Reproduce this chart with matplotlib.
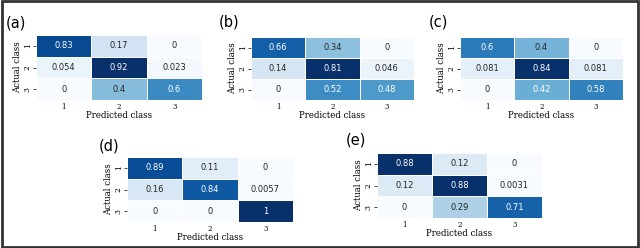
import matplotlib
matplotlib.use('Agg')
import matplotlib.pyplot as plt
import numpy as np
import seaborn as sns
from matplotlib.patches import Rectangle

# confusion matrices
cm_a = [[0.83, 0.17, 0], [0.054, 0.92, 0.023], [0, 0.4, 0.6]]
cm_b = [[0.66, 0.34, 0], [0.14, 0.81, 0.046], [0, 0.52, 0.48]]
cm_c = [[0.6, 0.4, 0], [0.081, 0.84, 0.081], [0, 0.42, 0.58]]
cm_d = [[0.89, 0.11, 0], [0.16, 0.84, 0.0057], [0, 0, 1]]
cm_e = [[0.88, 0.12, 0], [0.12, 0.88, 0.0031], [0, 0.29, 0.71]]
classes = ['1', '2', '3']
panel_names = ['(a)', '(b)', '(c)', '(d)', '(e)']

W, H = 640, 248
fig = plt.figure(figsize=(W / 100, H / 100), dpi=100)

# heatmap boxes in pixels: left, top, right, bottom
boxes = [(36, 35, 202, 100), (251, 37, 414, 100), (460, 37, 623, 100),
         (127, 157, 293, 222), (377, 153, 542, 218)]
# panel label positions (pixels, left / vertical centre)
label_pos = [(6, 23), (219, 22), (429, 22), (99, 146), (346, 140)]

for cm, box, name, lp in zip([cm_a, cm_b, cm_c, cm_d, cm_e], boxes, panel_names, label_pos):
    l, t, r, b = box
    data = np.array(cm)
    ax = fig.add_axes([l / W, 1 - b / H, (r - l) / W, (b - t) / H])
    sns.heatmap(data, ax=ax, cmap='Blues', annot=True, fmt='g', cbar=False,
                linewidths=0.6, linecolor='white', annot_kws={'size': 6})
    # light cells get dark text, as in the original
    for txt, v in zip(ax.texts, data.flatten()):
        txt.set_color('white' if v / data.max() > 0.49 else '#262626')
    ax.set_xticklabels(classes, fontsize=5, family='DejaVu Serif')
    ax.set_yticklabels(classes, fontsize=5.5, family='DejaVu Serif', rotation=90, va='center')
    ax.tick_params(axis='x', length=0, pad=2)
    ax.tick_params(axis='y', length=2, width=0.5, pad=1)
    ax.set_xlabel('Predicted class', fontsize=6.2, family='DejaVu Serif', labelpad=0)
    ax.set_ylabel('Actual class', fontsize=6.2, family='DejaVu Serif', labelpad=1)
    fig.text(lp[0] / W, 1 - lp[1] / H, name, fontsize=10.5, ha='left', va='center')

# dark frame around the whole figure
fig.patches.append(Rectangle((0.003, 0.006), 0.994, 0.988, transform=fig.transFigure,
                             fill=False, edgecolor='#333333', linewidth=2))

fig.savefig('out.png', dpi=100)
